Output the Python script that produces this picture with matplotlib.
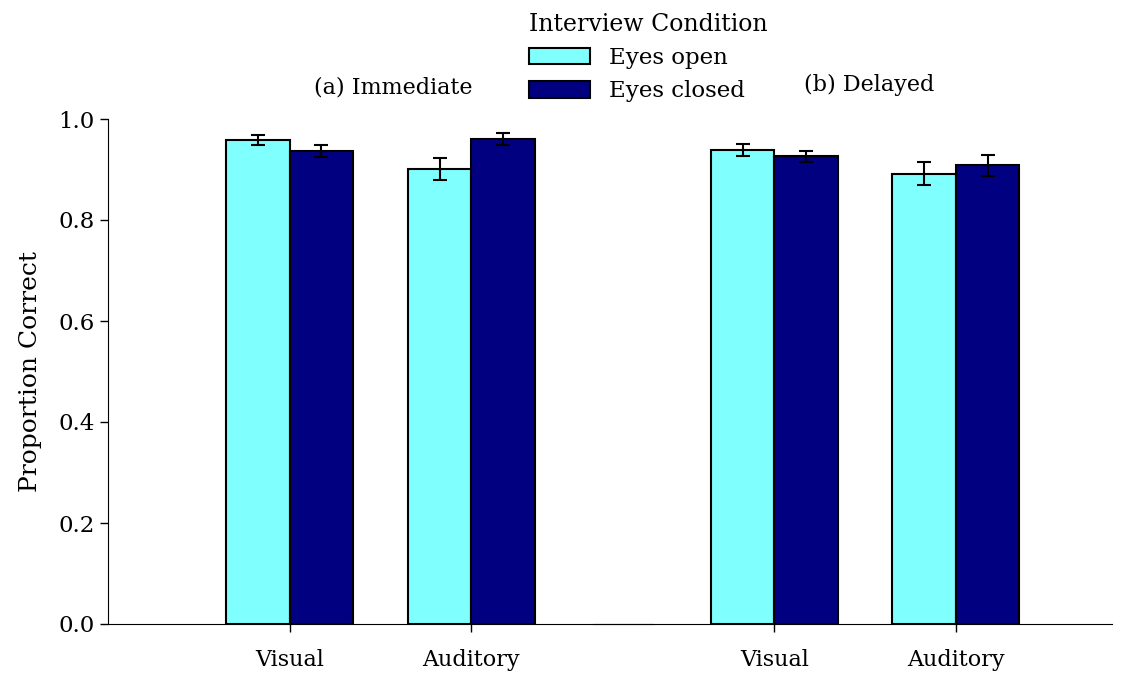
import matplotlib.pyplot as plt
import numpy as np

plt.rcParams['font.family'] = ['DejaVu Serif']

categories = ['Visual', 'Auditory']
conditions = ['Eyes open', 'Eyes closed']
colors = ['#80FFFF', '#000080']

# panel (a) immediate
imm_open = [0.958, 0.901]
imm_open_err = [0.010, 0.021]
imm_closed = [0.937, 0.961]
imm_closed_err = [0.012, 0.012]

# panel (b) delayed
del_open = [0.939, 0.892]
del_open_err = [0.012, 0.022]
del_closed = [0.926, 0.908]
del_closed_err = [0.011, 0.020]

fig = plt.figure(figsize=(11.39, 6.75), dpi=100)
axa = fig.add_axes([108/1139, 51/675, 545/1139, 505/675])
axb = fig.add_axes([593/1139, 51/675, 519/1139, 505/675])

w = 0.35
x = np.arange(len(categories))

def draw(ax, vo, eo, vc, ec):
    ax.bar(x - w/2, vo, w, color=colors[0], edgecolor='black', linewidth=1.5,
           label=conditions[0])
    ax.bar(x + w/2, vc, w, color=colors[1], edgecolor='black', linewidth=1.5,
           label=conditions[1])
    ax.errorbar(x - w/2, vo, yerr=eo, fmt='none', ecolor='black', elinewidth=1.5,
                capsize=5, capthick=1.5)
    ax.errorbar(x + w/2, vc, yerr=ec, fmt='none', ecolor='black', elinewidth=1.5,
                capsize=5, capthick=1.5)
    ax.set_ylim(0, 1.0)
    ax.set_xticks(x)
    ax.set_xticklabels(categories, fontsize=16)
    ax.tick_params(axis='x', length=6, width=1, pad=12)
    ax.spines['top'].set_visible(False)
    ax.spines['right'].set_visible(False)
    ax.patch.set_alpha(0)

draw(axa, imm_open, imm_open_err, imm_closed, imm_closed_err)
draw(axb, del_open, del_open_err, del_closed, del_closed_err)

axa.set_xlim(-1.0, 2.0)
axb.set_xlim(-1.0, 1.86)

axa.set_yticks([0, 0.2, 0.4, 0.6, 0.8, 1.0])
axa.set_yticklabels(['0.0', '0.2', '0.4', '0.6', '0.8', '1.0'])
axa.tick_params(axis='y', labelsize=16.5, length=6, width=1)
axa.set_ylabel('Proportion Correct', fontsize=18, labelpad=12)

axb.spines['left'].set_visible(False)
axb.set_yticks([])

axa.text(0.57, 1.063, '(a) Immediate', ha='center', va='center', fontsize=16)
axb.text(0.52, 1.067, '(b) Delayed', ha='center', va='center', fontsize=16)

handles, labels = axa.get_legend_handles_labels()
leg = fig.legend(handles, labels, title='Interview Condition', loc='upper left',
                 bbox_to_anchor=(508/1139, 1.012), frameon=False, fontsize=16.5,
                 title_fontsize=17, handlelength=2.7, handleheight=0.75,
                 labelspacing=0.5, handletextpad=0.8)
leg._legend_box.align = 'left'

fig.savefig('out.png', dpi=100)
